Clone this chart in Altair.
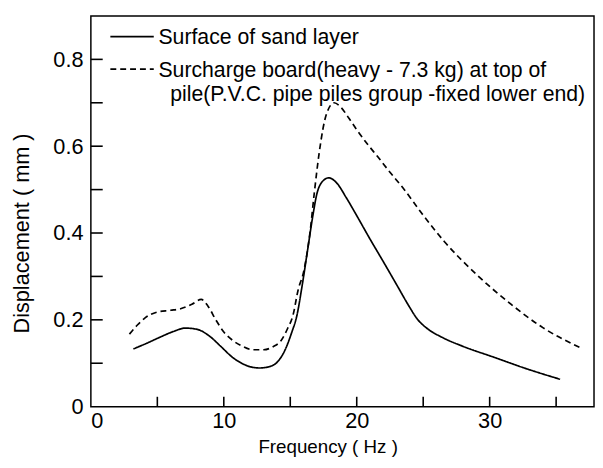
import altair as alt
import pandas as pd

# ---- data ----
freq_surface = [3.2, 4.2, 5.2, 6.2, 7.1, 8.0, 8.9, 9.8, 10.6, 11.4, 12.1, 12.7, 13.4,
                14.0, 14.6, 15.1, 15.5, 15.9, 16.3, 16.7, 17.0, 17.4, 17.9, 18.5, 19.2,
                20.0, 21.0, 22.0, 23.0, 24.0, 24.5, 25.3, 26.4, 27.9, 30.3, 32.8, 35.3]
disp_surface = [0.133, 0.146, 0.160, 0.173, 0.181, 0.178, 0.163, 0.138, 0.115, 0.099,
                0.091, 0.089, 0.092, 0.102, 0.130, 0.170, 0.210, 0.280, 0.360, 0.440,
                0.490, 0.518, 0.527, 0.515, 0.482, 0.440, 0.386, 0.334, 0.281, 0.228,
                0.204, 0.180, 0.160, 0.140, 0.114, 0.087, 0.063]

freq_surcharge = [2.9, 3.5, 4.1, 5.0, 6.0, 6.8, 7.6, 8.3, 8.8, 9.4, 10.0, 10.7, 11.4,
                  12.2, 13.0, 13.7, 14.3, 14.8, 15.2, 15.6, 16.0, 16.5, 16.8, 17.2, 17.7,
                  18.3, 18.8, 19.4, 20.0, 20.8, 21.6, 22.5, 23.5, 24.9, 26.6, 29.1, 31.6,
                  34.0, 36.8]
disp_surcharge = [0.167, 0.188, 0.205, 0.218, 0.222, 0.226, 0.236, 0.247, 0.232, 0.200,
                  0.172, 0.152, 0.139, 0.131, 0.131, 0.138, 0.152, 0.180, 0.210, 0.270,
                  0.310, 0.405, 0.490, 0.590, 0.672, 0.700, 0.690, 0.665, 0.638, 0.605,
                  0.575, 0.540, 0.503, 0.445, 0.380, 0.302, 0.236, 0.182, 0.136]

label_surface = "Surface of sand layer"
label_surcharge = ("Surcharge board(heavy - 7.3 kg) at top of|"
                   "\u200b\u00a0\u00a0pile(P.V.C. pipe piles group -fixed lower end)")

x_label_values = [0, 10, 20, 30]
x_tick_values = [5, 10, 15, 20, 25, 30, 35]
y_label_values = [0, 0.2, 0.4, 0.6, 0.8]
y_tick_values = [0.1, 0.2, 0.3, 0.4, 0.5, 0.6, 0.7, 0.8]

df = pd.concat([
    pd.DataFrame({"freq": freq_surface, "disp": disp_surface, "series": label_surface}),
    pd.DataFrame({"freq": freq_surcharge, "disp": disp_surcharge, "series": label_surcharge}),
], ignore_index=True)
xticks_df = pd.DataFrame({"xt": x_tick_values})
yticks_df = pd.DataFrame({"yt": y_tick_values})

W, H = 510, 396
FONT = "Liberation Sans"

xs = alt.Scale(domain=[0, 37.85], nice=False, zero=False)
ys = alt.Scale(domain=[0, 0.9], nice=False)

x_axis = alt.Axis(
    orient="bottom", values=x_label_values, format="d", ticks=False, tickSize=0,
    domain=False, grid=False, labelPadding=4, labelFontSize=22,
    title="Frequency ( Hz )", titleFontSize=19, titleFontWeight="normal",
    titleX=240, titleY=31, titleBaseline="top")
y_axis = alt.Axis(
    orient="left", values=y_label_values,
    labelExpr="datum.value == 0 ? '0' : format(datum.value, '.1f')",
    ticks=False, tickSize=0, domain=False, grid=False, labelPadding=8,
    labelFontSize=22, title="Displacement ( mm )", titleFontSize=22,
    titleFontWeight="normal", titleX=-58, titleY=220)

lines = alt.Chart(df).mark_line(color="black", strokeWidth=1.7, interpolate="monotone").encode(
    x=alt.X("freq:Q", scale=xs, axis=x_axis),
    y=alt.Y("disp:Q", scale=ys, axis=y_axis),
    strokeDash=alt.StrokeDash("series:N", scale=alt.Scale(
        domain=[label_surface, label_surcharge], range=[[1, 0], [6, 4]]),
        legend=alt.Legend(
            title=None, orient="none", legendX=31, legendY=1, padding=0,
            symbolType="M-2.75,1.15L2.75,1.15", symbolSize=256, symbolStrokeWidth=1.7,
            symbolStrokeColor="black", symbolFillColor="transparent",
            labelFont=FONT, labelFontSize=21.5, labelBaseline="top", labelOffset=16,
            labelLimit=0, rowPadding=0, labelColor="black",
            labelExpr="split(datum.label, '|')")),
)

# inward-pointing tick marks along the bottom and left frame edges
xticks = alt.Chart(xticks_df).mark_rule(color="black", strokeWidth=1.6).encode(
    x=alt.X("xt:Q", scale=xs, axis=x_axis),
    y=alt.YDatum(0, scale=ys, axis=y_axis),
    y2=alt.value(H - 10),
)
yticks = alt.Chart(yticks_df).mark_tick(
    color="black", thickness=1.6, size=12, orient="horizontal", opacity=1
).encode(
    y=alt.Y("yt:Q", scale=ys, axis=y_axis),
    x=alt.value(6),
)

chart = alt.layer(lines, xticks, yticks).properties(
    width=W, height=H, autosize="none",
    padding={"left": 84, "top": 5, "right": 1, "bottom": 50},
).configure(
    style={"guide-label": {"lineHeight": 24}}
).configure_view(
    stroke="black", strokeWidth=1.5
).configure_axis(
    labelFont=FONT, titleFont=FONT, labelColor="black", titleColor="black"
)

chart.save("out.html", embed_options={"renderer": "svg", "actions": False})
